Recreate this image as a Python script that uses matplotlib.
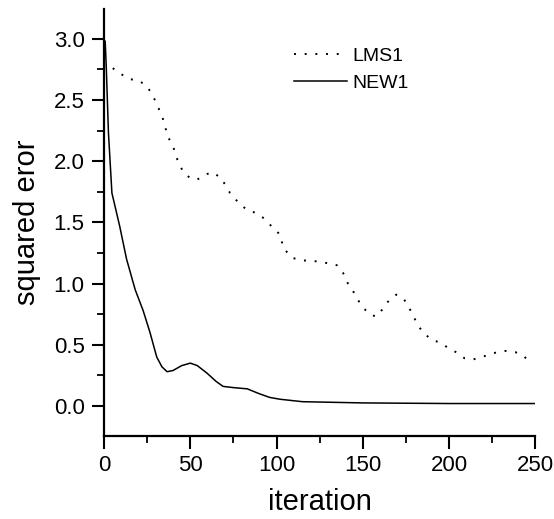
import numpy as np
import matplotlib.pyplot as plt
from matplotlib.ticker import MultipleLocator

plt.rcParams['font.family'] = ['Liberation Sans', 'DejaVu Sans']

# LMS1 (dotted)
lms_x = [5, 10, 15, 20, 25, 28, 30.5, 34, 37, 40, 43, 46, 50, 54, 58.5, 63, 68, 73,
         78, 83, 87.5, 92, 97, 102, 104, 109, 115, 125, 135, 138.5, 141, 144, 146.5,
         150, 153, 157.5, 161.5, 164.5, 169.5, 174, 177, 179.5, 182, 185, 190, 194.5,
         199, 204, 209, 214, 219, 223.5, 228, 233, 238.5, 243, 248]
lms_y = [2.76, 2.71, 2.67, 2.66, 2.61, 2.54, 2.47, 2.35, 2.2, 2.12, 1.99, 1.91, 1.86,
         1.85, 1.89, 1.91, 1.86, 1.74, 1.66, 1.6, 1.58, 1.54, 1.47, 1.40, 1.29, 1.21,
         1.19, 1.18, 1.15, 1.09, 1.01, 0.95, 0.88, 0.81, 0.76, 0.73, 0.79, 0.85, 0.91,
         0.87, 0.80, 0.73, 0.66, 0.60, 0.54, 0.52, 0.48, 0.44, 0.39, 0.38, 0.40, 0.42,
         0.44, 0.45, 0.44, 0.41, 0.35]

# NEW1 (solid)
new_x = [0.6, 1.2, 2.5, 4.5, 9, 13, 18, 22.6, 26.6, 30.5, 33.5, 36.5, 40, 45, 50, 54,
         59.5, 65, 69, 75, 83, 90, 96, 102, 115, 150, 200, 250]
new_y = [2.98, 2.78, 2.23, 1.74, 1.47, 1.2, 0.95, 0.78, 0.6, 0.40, 0.32, 0.28, 0.29,
         0.33, 0.35, 0.33, 0.27, 0.2, 0.16, 0.15, 0.14, 0.1, 0.07, 0.055, 0.035, 0.025,
         0.02, 0.02]

fig = plt.figure(figsize=(5.54, 5.19), dpi=100)
ax = fig.add_axes([0.188, 0.16, 0.778, 0.823])

ax.plot(lms_x, lms_y, color='black', lw=1.4, linestyle=(0, (1, 4.5)), label='LMS1')
ax.plot(new_x, new_y, color='black', lw=1.1, label='NEW1')

ax.set_xlim(0, 250)
ax.set_ylim(-0.245, 3.245)
ax.xaxis.set_major_locator(MultipleLocator(50))
ax.xaxis.set_minor_locator(MultipleLocator(25))
ax.yaxis.set_major_locator(MultipleLocator(0.5))
ax.yaxis.set_minor_locator(MultipleLocator(0.25))
ax.set_yticks(np.arange(0, 3.01, 0.5))

for s in ['top', 'right']:
    ax.spines[s].set_visible(False)
for s in ['left', 'bottom']:
    ax.spines[s].set_linewidth(1.6)

ax.tick_params(which='major', direction='out', length=9, width=1.5, labelsize=16, pad=5)
ax.tick_params(which='minor', direction='out', length=5, width=1.3)

ax.set_xlabel('iteration', fontsize=21, labelpad=8)
ax.set_ylabel('squared eror', fontsize=21, labelpad=9)

ax.legend(loc='upper left', bbox_to_anchor=(0.4, 0.95), frameon=False,
          fontsize=14, handlelength=2.7, handletextpad=0.3, labelspacing=0.45)

fig.savefig('out.png', dpi=100)
